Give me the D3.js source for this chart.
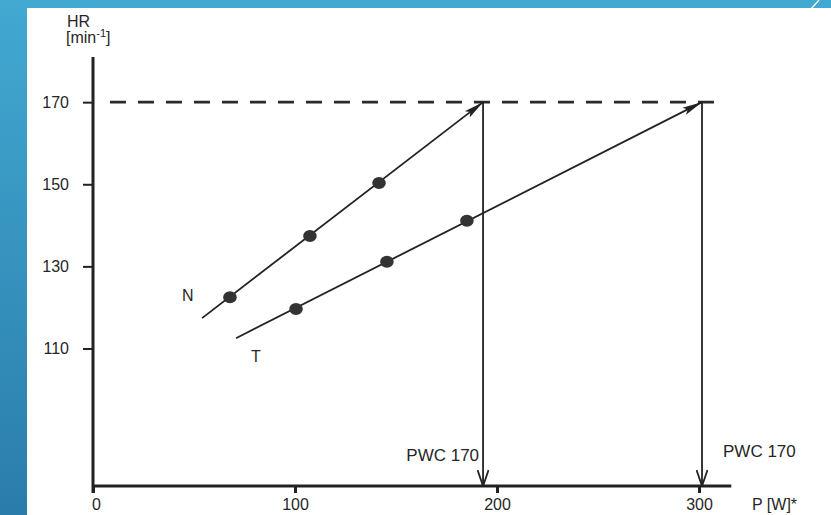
<!DOCTYPE html>
<html><head><meta charset="utf-8">
<script src="https://cdn.jsdelivr.net/npm/d3@7"></script>
<style>
html,body{margin:0;padding:0;background:#fff;}
svg{display:block;}
text{font-family:"Liberation Sans",Arial,Helvetica,sans-serif;fill:#262626;}
</style></head>
<body>
<svg id="chart" width="831" height="515"></svg>
<script>
// ---- data ----
const xTicks = [0, 100, 200, 300];
const yTicks = [110, 130, 150, 170];
const seriesNames = ["N", "T"];
const nPower = [67.8, 107.4, 141.6];
const nHR = [122.5, 137.4, 150.3];
const tPower = [100.5, 145.5, 185.1];
const tHR = [119.6, 131.1, 141.1];
// fitted line start / end (arrow tip at HR 170)
const nLine = [[54.0, 117.4], [193.1, 170]];
const tLine = [[70.8, 112.5], [301.5, 170]];
const pwcN = 193.1, pwcT = 301.5;
const refHR = 170;
const refLine = [8.4, 309.4];
const xDomain = [0, 316];
const yDomain = [76.5, 181];
const pwcLabel = "PWC 170";

const svg = d3.select("#chart");

// slide frame
const defs = svg.append("defs");
const grad = defs.append("linearGradient").attr("id","bg").attr("x1",0).attr("y1",0).attr("x2",0).attr("y2",1);
grad.append("stop").attr("offset","0%").attr("stop-color","#42a9d1");
grad.append("stop").attr("offset","100%").attr("stop-color","#2a7dab");
svg.append("rect").attr("x",0).attr("y",0).attr("width",27).attr("height",515).attr("fill","url(#bg)");
svg.append("rect").attr("x",0).attr("y",0).attr("width",831).attr("height",8).attr("fill","#42a9d1");
svg.append("line").attr("x1",811).attr("y1",9).attr("x2",819).attr("y2",0).attr("stroke","#fff").attr("stroke-width",1.2);

const x = d3.scaleLinear().domain(xDomain).range([93, 731.3]);
const y = d3.scaleLinear().domain(yDomain).range([486, 57]);

// markers
defs.append("marker").attr("id","filled").attr("viewBox","0 -5 20 10").attr("refX",20).attr("refY",0)
  .attr("markerWidth",20).attr("markerHeight",10).attr("markerUnits","userSpaceOnUse").attr("orient","auto")
  .append("path").attr("d","M0,-4L20,0L0,4L4,0Z").attr("fill","#222");
defs.append("marker").attr("id","open").attr("viewBox","0 -6 18 12").attr("refX",17).attr("refY",0)
  .attr("markerWidth",18).attr("markerHeight",12).attr("markerUnits","userSpaceOnUse").attr("orient","auto")
  .append("path").attr("d","M1,-5.5L17,0L1,5.5").attr("fill","none").attr("stroke","#222").attr("stroke-width",1.8);

// axes
const xAxis = d3.axisBottom(x).tickValues(xTicks).tickSize(7).tickSizeOuter(0).tickPadding(6);
const gx = svg.append("g").attr("transform",`translate(0,${y(yDomain[0])})`).call(xAxis);
gx.select(".domain").remove();
gx.selectAll("line").attr("stroke","#222").attr("stroke-width",3);
gx.selectAll("text").attr("font-size",16).style("font-family","Liberation Sans, Arial, sans-serif").attr("fill","#262626").attr("dx", d => d===0 ? 3 : 0);

const yAxis = d3.axisLeft(y).tickValues(yTicks).tickSize(10).tickSizeOuter(0).tickPadding(14);
const gy = svg.append("g").attr("transform",`translate(${x(0)},0)`).call(yAxis);
gy.select(".domain").remove();
gy.selectAll("line").attr("stroke","#222").attr("stroke-width",2);
gy.selectAll("text").attr("font-size",16).style("font-family","Liberation Sans, Arial, sans-serif").attr("fill","#262626");

svg.append("line").attr("x1",x(0)).attr("x2",x(xDomain[1])).attr("y1",y(yDomain[0])).attr("y2",y(yDomain[0]))
  .attr("stroke","#222").attr("stroke-width",3);
svg.append("line").attr("x1",x(0)).attr("x2",x(0)).attr("y1",y(yDomain[1])).attr("y2",y(yDomain[0])+7)
  .attr("stroke","#222").attr("stroke-width",3);

// dashed reference
svg.append("line").attr("x1",x(refLine[0])).attr("x2",x(refLine[1])).attr("y1",y(refHR)).attr("y2",y(refHR))
  .attr("stroke","#2a2a2a").attr("stroke-width",2.6).attr("stroke-dasharray","16,12");

// fitted lines with arrowheads
[nLine, tLine].forEach(l => {
  svg.append("line").attr("x1",x(l[0][0])).attr("y1",y(l[0][1])).attr("x2",x(l[1][0])).attr("y2",y(l[1][1]))
    .attr("stroke","#222").attr("stroke-width",1.8).attr("marker-end","url(#filled)");
});

// vertical PWC arrows
[pwcN, pwcT].forEach(p => {
  svg.append("line").attr("x1",x(p)).attr("x2",x(p)).attr("y1",y(refHR)).attr("y2",y(yDomain[0]))
    .attr("stroke","#222").attr("stroke-width",1.8).attr("marker-end","url(#open)");
});

// points
const pts = nPower.map((p,i)=>[p,nHR[i]]).concat(tPower.map((p,i)=>[p,tHR[i]]));
svg.selectAll("ellipse.pt").data(pts).enter().append("ellipse").attr("class","pt")
  .attr("cx",d=>x(d[0])).attr("cy",d=>y(d[1])).attr("rx",6.8).attr("ry",6).attr("fill","#333");

// labels
svg.append("text").attr("x",x(nLine[0][0])-20).attr("y",y(nLine[0][1])-17).attr("font-size",16).text(seriesNames[0]);
svg.append("text").attr("x",x(tLine[0][0])+15).attr("y",y(tLine[0][1])+24).attr("font-size",16).text(seriesNames[1]);
svg.append("text").attr("x",x(pwcN)-4).attr("y",461).attr("text-anchor","end").attr("font-size",17).text(pwcLabel);
svg.append("text").attr("x",x(pwcT)+21).attr("y",457).attr("font-size",17).text(pwcLabel);
svg.append("text").attr("x",752).attr("y",510).attr("font-size",16).text("P [W]*");

const hr = svg.append("text").attr("x",67).attr("y",27).attr("font-size",16);
hr.text("HR");
const mn = svg.append("text").attr("x",66).attr("y",43).attr("font-size",16);
mn.append("tspan").text("[min");
mn.append("tspan").attr("font-size",11).attr("dy",-6).text("-1");
mn.append("tspan").attr("dy",6).text("]");
</script>
</body></html>
